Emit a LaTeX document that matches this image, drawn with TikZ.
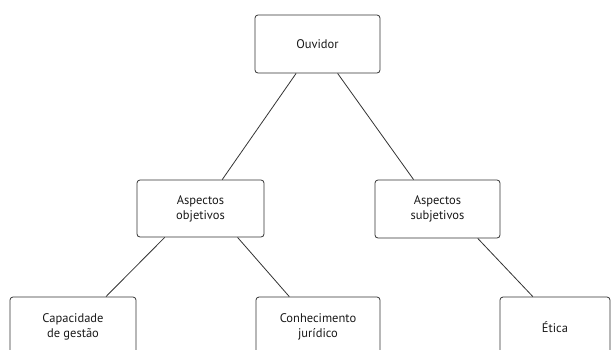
\documentclass[tikz,border=0pt]{standalone}
\usepackage{fontspec}
\setmainfont{PT Sans}
\usetikzlibrary{calc}

\tikzset{
  caixa/.style={draw=black!80, line width=0.8pt, rounded corners=3pt,
    align=center, inner sep=0pt, text=black!90,
    font=\fontsize{12.5}{15}\selectfont},
  ligacao/.style={draw=black!80, line width=0.8pt},
}

\begin{document}
\begin{tikzpicture}[x=1pt,y=1pt]
        \useasboundingbox (0,0) rectangle (614,-349);
        \clip (0,0) rectangle (614,-349);
        % nivel 1
        \node [caixa, minimum width=125pt, minimum height=58pt] (ouvidor) at (317.5,-44) {Ouvidor};
        % nivel 2
        \node [caixa, minimum width=127pt, minimum height=57pt] (objetivos) at (200.5,-208.5) {Aspectos\\objetivos};
        \node [caixa, minimum width=125pt, minimum height=58pt] (subjetivos) at (437.5,-209) {Aspectos\\subjetivos};
        % nivel 3 (cortado embaixo)
        \node [caixa, minimum width=126pt, minimum height=60pt] (gestao) at (73,-327) {Capacidade\\de gestão};
        \node [caixa, minimum width=124pt, minimum height=60pt] (juridico) at (318,-327) {Conhecimento\\jurídico};
        \node [caixa, minimum width=110pt, minimum height=60pt] (etica) at (555,-327) {Ética};
        % ligacoes
        \draw [ligacao] ($(ouvidor.south west)!0.33!(ouvidor.south east)$) -- ($(objetivos.north west)!0.67!(objetivos.north east)$);
        \draw [ligacao] ($(ouvidor.south west)!0.66!(ouvidor.south east)$) -- ($(subjetivos.north west)!0.31!(subjetivos.north east)$);
        \draw [ligacao] ($(objetivos.south west)!0.22!(objetivos.south east)$) -- ($(gestao.north west)!0.76!(gestao.north east)$);
        \draw [ligacao] ($(objetivos.south west)!0.79!(objetivos.south east)$) -- ($(juridico.north west)!0.27!(juridico.north east)$);
        \draw [ligacao] ($(subjetivos.south west)!0.82!(subjetivos.south east)$) -- ($(etica.north west)!0.3!(etica.north east)$);
\end{tikzpicture}
\end{document}
